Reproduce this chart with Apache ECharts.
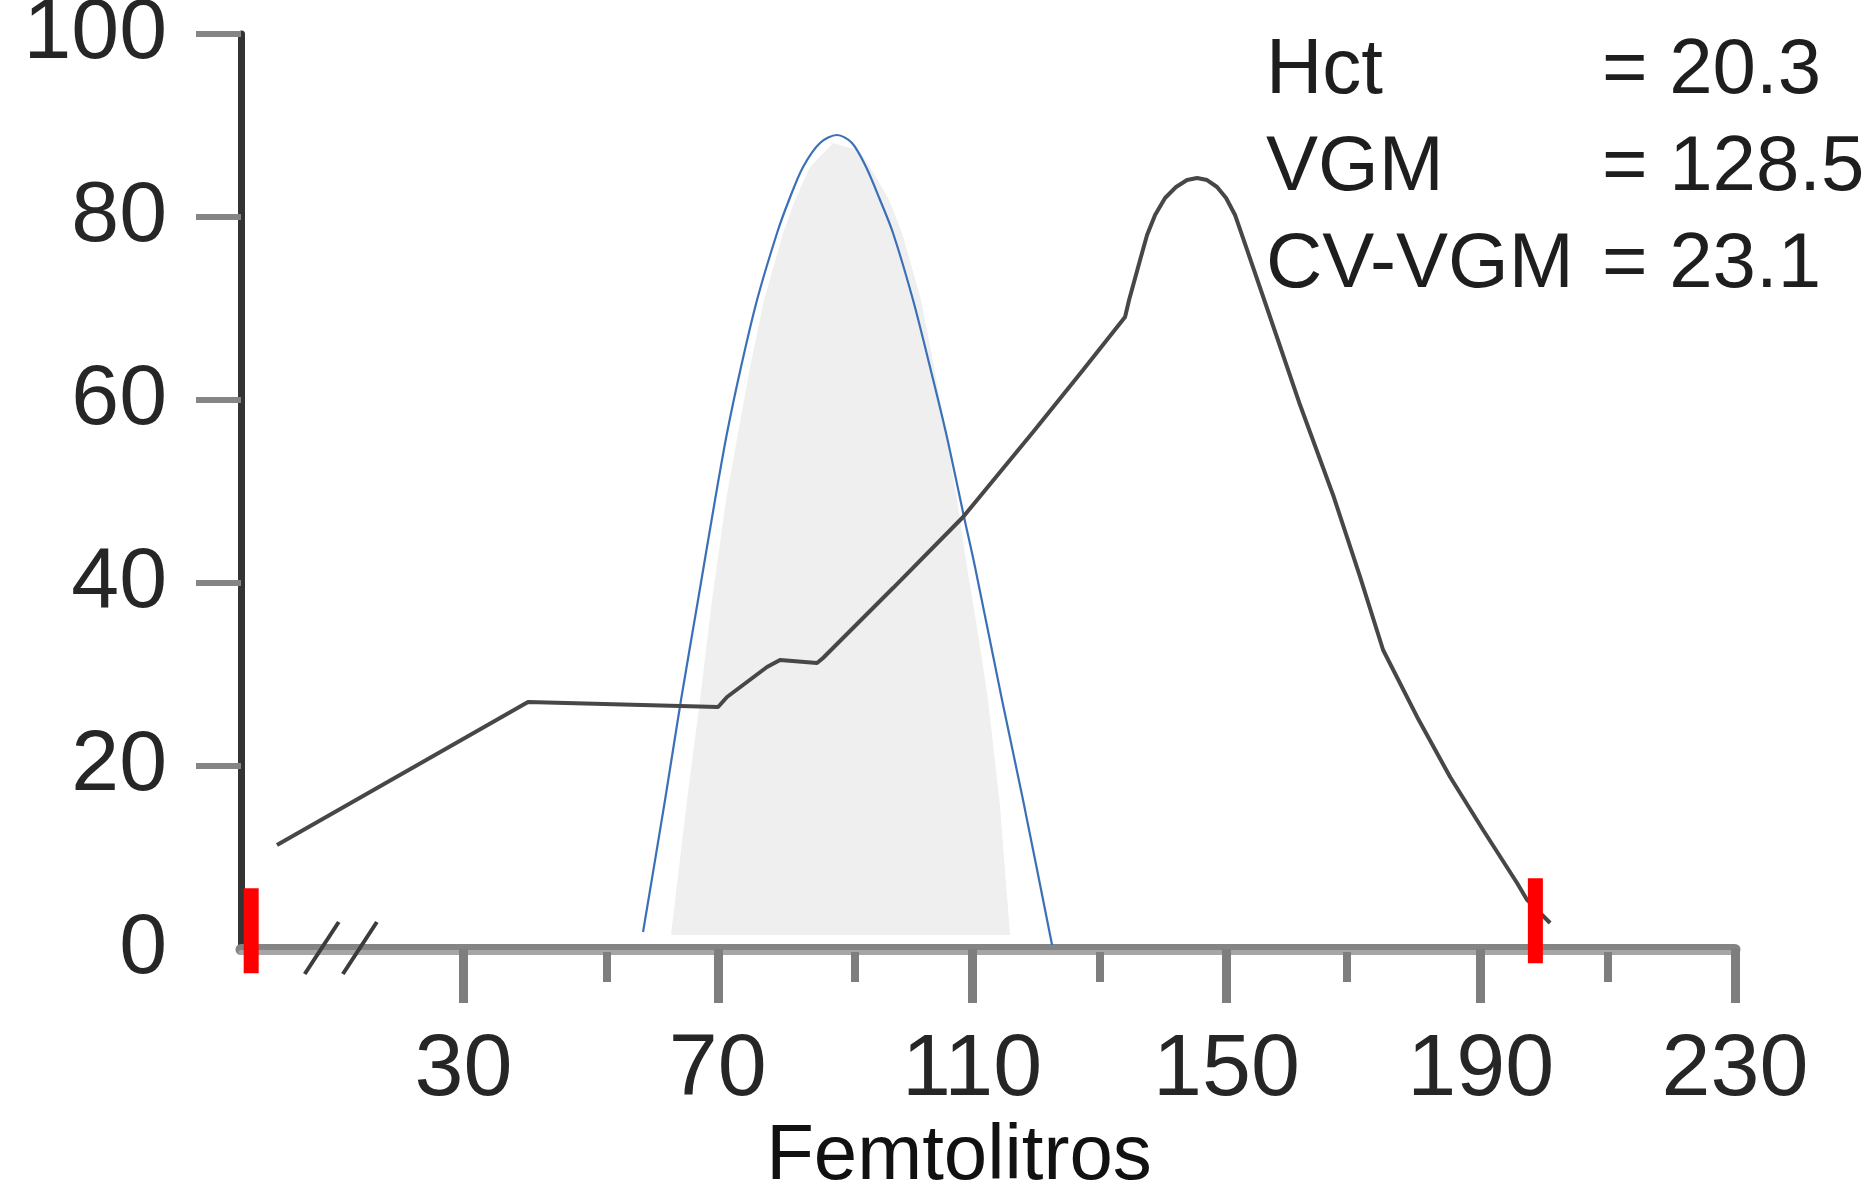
<!DOCTYPE html>
<html>
<head>
<meta charset="utf-8">
<title>Femtolitros</title>
<script src="https://cdn.jsdelivr.net/npm/echarts@6.0.0/dist/echarts.min.js"></script>
<style>
html, body { margin: 0; padding: 0; background: #fff; }
#main { width: 1868px; height: 1189px; }
</style>
</head>
<body>
<div id="main"></div>
<script>
// ticks / labels
var xTicks = [30, 70, 110, 150, 190, 230];
var xMinorTicks = [52.5, 91.5, 130, 169, 210];
var yTicks = [20, 40, 60, 80, 100];
var yLabels = [0, 20, 40, 60, 80, 100];

// curva gris (muestra)
var grayX = [0.66, 40.15, 70.04, 71.45, 77.74, 79.79, 85.61, 86.55, 97.56, 108.58, 119.59, 127.45, 134.06, 134.69, 135.47, 136.42, 137.52, 138.78, 140.35, 142.08, 143.81, 145.39, 146.96, 148.53, 149.95, 151.36, 152.62, 156.87, 161.59, 166.78, 171.03, 174.65, 180.00, 185.19, 190.38, 195.72, 197.30, 200.92];
var grayY = [11.37, 26.99, 26.45, 27.54, 30.82, 31.58, 31.26, 31.80, 39.45, 47.21, 56.50, 63.28, 69.07, 70.93, 72.90, 75.30, 78.03, 80.22, 82.08, 83.28, 84.04, 84.26, 84.04, 83.28, 82.08, 80.22, 77.70, 69.07, 59.45, 49.62, 40.66, 32.68, 25.36, 18.80, 13.01, 7.21, 5.36, 2.84];

// curva azul (referencia)
var blueX = [58.24, 61.70, 64.21, 66.89, 69.56, 71.45, 73.65, 76.17, 79.32, 81.20, 83.41, 86.08, 88.75, 91.11, 93.32, 95.52, 97.56, 100.71, 103.38, 105.90, 108.73, 110.46, 114.71, 118.01, 122.58];
var blueY = [1.86, 16.28, 27.21, 38.14, 49.07, 56.39, 63.61, 70.93, 78.25, 81.86, 85.46, 88.09, 88.96, 88.09, 85.46, 81.86, 78.25, 70.93, 63.61, 56.39, 47.21, 41.75, 27.21, 16.28, 0.44];

// zona sombreada
var fillX = [62.64, 65.16, 67.20, 69.09, 71.29, 73.18, 75.07, 77.27, 80.26, 82.15, 84.51, 88.13, 92.06, 93.95, 96.94, 98.98, 101.97, 104.01, 105.90, 107.63, 109.20, 111.09, 112.51, 114.40, 115.97];
var fillY = [1.53, 16.28, 27.21, 38.14, 49.07, 56.39, 63.61, 70.93, 78.25, 81.86, 85.46, 88.09, 87.32, 85.46, 81.86, 78.25, 70.93, 63.61, 56.39, 49.07, 41.75, 33.77, 27.21, 15.52, 1.53];

// marcadores rojos
var markX = [-3.4, 198.6];
var markY = [2.0, 3.1];

// corte del eje x
var breakX = [7.7, 13.7];

var statNames = ['Hct', 'VGM', 'CV-VGM'];
var statValues = ['20.3', '128.5', '23.1'];

var FONT = '"Liberation Sans", Arial, Helvetica, sans-serif';

function zip(xs, ys) {
    return xs.map(function (x, i) { return [x, ys[i]]; });
}

var myChart = echarts.init(document.getElementById('main'), null, {renderer: 'canvas'});

var option = {
    animation: false,
    backgroundColor: '#fff',
    grid: {left: 241, right: 133, top: 34, bottom: 240, outerBoundsMode: 'none'},
    xAxis: [{
        type: 'value', min: -5, max: 230,
        axisLine: {show: true, onZero: false, lineStyle: {color: '#848484', width: 11}},
        axisTick: {show: true, customValues: xTicks, length: 54, lineStyle: {color: '#7e7e7e', width: 9}},
        axisLabel: {customValues: xTicks, margin: 78, fontSize: 88, color: '#262626', fontFamily: FONT},
        splitLine: {show: false}
    }, {
        // segunda tonalidad del eje + marcas cortas
        type: 'value', min: -5, max: 230, position: 'bottom', offset: 3,
        axisLine: {show: true, onZero: false, lineStyle: {color: '#a6a6a6', width: 5}},
        axisTick: {show: true, customValues: xMinorTicks, length: 30, lineStyle: {color: '#7e7e7e', width: 8}},
        axisLabel: {show: false},
        splitLine: {show: false}
    }],
    yAxis: {
        type: 'value', min: 0, max: 100,
        axisLine: {show: true, onZero: false, lineStyle: {color: '#333', width: 7}},
        axisTick: {show: true, customValues: yTicks, length: 45, lineStyle: {color: '#858585', width: 6}},
        axisLabel: {customValues: yLabels, margin: 74, fontSize: 86, color: '#262626', fontFamily: FONT},
        splitLine: {show: false}
    },
    series: [
        {
            name: 'normal',
            type: 'custom',
            data: [[fillX[0], fillY[0]]],
            renderItem: function (params, api) {
                var pts = fillX.map(function (x, i) { return api.coord([x, fillY[i]]); });
                return {type: 'polygon', shape: {points: pts}, style: {fill: '#efefef'}};
            },
            z: 1,
            silent: true
        },
        {
            name: 'referencia',
            type: 'line',
            data: zip(blueX, blueY),
            smooth: 0.3,
            showSymbol: false,
            lineStyle: {color: '#3b70b8', width: 2.2},
            z: 3
        },
        {
            name: 'muestra',
            type: 'line',
            data: zip(grayX, grayY),
            showSymbol: false,
            lineStyle: {color: '#474747', width: 4},
            z: 4
        },
        {
            name: 'umbral',
            type: 'scatter',
            data: zip(markX, markY),
            symbol: 'rect',
            symbolSize: [15, 85],
            itemStyle: {color: '#ff0000', opacity: 1},
            clip: false,
            z: 10
        }
    ]
};

myChart.setOption(option);

// textos y corte del eje
var graphics = [];
statNames.forEach(function (name, i) {
    var y = 71 + i * 97;
    graphics.push({type: 'text', x: 1266, y: y, z: 20,
        style: {text: name, font: '78px ' + FONT, fill: '#1e1e1e', verticalAlign: 'middle', align: 'left'}});
    graphics.push({type: 'text', x: 1602, y: y, z: 20,
        style: {text: '= ' + statValues[i], font: '78px ' + FONT, fill: '#1e1e1e', verticalAlign: 'middle', align: 'left'}});
});
graphics.push({type: 'text', x: 959, y: 1157, z: 20,
    style: {text: 'Femtolitros', font: '78px ' + FONT, fill: '#111', verticalAlign: 'middle', align: 'center'}});

breakX.forEach(function (bx) {
    var p = myChart.convertToPixel({xAxisIndex: 0, yAxisIndex: 0}, [bx, 0]);
    graphics.push({type: 'line', z: 20,
        shape: {x1: p[0] - 17, y1: p[1] + 25, x2: p[0] + 17, y2: p[1] - 27},
        style: {stroke: '#3c3c3c', lineWidth: 4}});
});

myChart.setOption({graphic: graphics});
</script>
</body>
</html>
